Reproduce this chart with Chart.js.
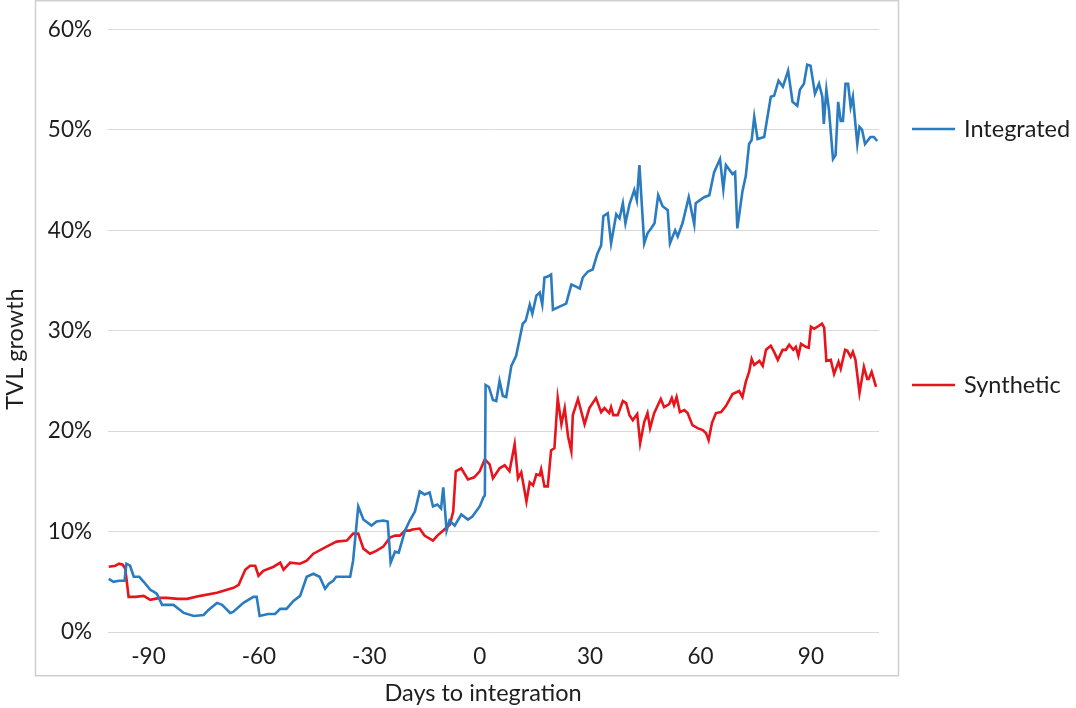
<!DOCTYPE html>
<html>
<head>
<meta charset="utf-8">
<script src="https://cdn.jsdelivr.net/npm/chart.js@4.4.1/dist/chart.umd.min.js"></script>
<style>
  html, body { margin: 0; padding: 0; background: #fff; }
  canvas { display: block; }
</style>
</head>
<body>
<canvas id="chartTVL" width="1076" height="708"></canvas>
<script>
let seriesNames = ["Integrated", "Synthetic"];
let seriesColors = ["#2a7bbf", "#e8141c"];

let tickDays = [-90, -60, -30, 0, 30, 60, 90];
let xTitle = "Days to integration";
let yTitle = "TVL growth";

let integratedDays = [-100.8, -99.5, -98, -96.5, -96, -95, -94, -92.5, -91.3, -89.5, -88.5, -87.7, -86.3, -83.2, -80.4, -77.7, -75, -73.7, -71.4, -70, -67.8, -67, -64.2, -61.5, -60.6, -59.8, -57.5, -55.6, -54.2, -52.5, -50.6, -48.8, -47, -45.2, -43.5, -42, -41, -39.8, -39, -35.2, -34.4, -33, -31.6, -29.4, -28, -26.2, -25, -24.2, -23, -22, -20.3, -19, -17.6, -16.3, -15, -13.6, -12.7, -11.5, -10.5, -9.9, -9, -8.2, -6.8, -5, -3.2, -2, 0, 1, 1.4, 1.6, 2.5, 3.6, 4.5, 5.4, 6.3, 7.2, 8.6, 9.9, 11.7, 12.5, 13.6, 14.3, 15.4, 16.3, 17, 17.6, 18.5, 19.4, 19.9, 21.7, 23.5, 24.9, 26.2, 27.2, 28, 29.4, 30.7, 32, 33, 33.6, 34.8, 35.7, 37.1, 38, 38.9, 39.6, 40.7, 42, 42.7, 43.4, 44.7, 45.6, 46.6, 47.5, 48.5, 49.7, 51.1, 51.7, 53.1, 53.8, 55.1, 56.8, 58.3, 58.7, 61, 62.4, 63.7, 65.3, 66.2, 66.9, 68.7, 69.4, 70, 71.4, 72.3, 73.2, 73.9, 74.6, 75.5, 77.3, 79.1, 80, 81.2, 82.4, 83.8, 85, 86.3, 87, 88.1, 89, 89.9, 91.1, 92.2, 93.1, 93.5, 94.2, 94.9, 96, 96.7, 97.4, 98.1, 98.7, 99.4, 100.1, 100.8, 101.4, 102.6, 103.2, 103.9, 104.7, 106.2, 107.1, 108];
let integratedValues = [5.3, 5.0, 5.1, 5.1, 6.8, 6.6, 5.5, 5.5, 5.0, 4.2, 4.0, 3.8, 2.7, 2.7, 1.9, 1.6, 1.7, 2.2, 2.9, 2.7, 1.9, 2.0, 2.9, 3.5, 3.5, 1.6, 1.8, 1.8, 2.3, 2.3, 3.1, 3.6, 5.5, 5.8, 5.5, 4.3, 4.8, 5.1, 5.5, 5.5, 7.1, 12.5, 11.2, 10.6, 11.0, 11.1, 11.0, 6.9, 8.0, 7.9, 10.1, 11.1, 12.0, 14.0, 13.7, 13.9, 12.5, 12.7, 12.3, 14.4, 10.1, 11.1, 10.6, 11.7, 11.2, 11.5, 12.5, 13.4, 13.6, 24.6, 24.4, 23.1, 23.0, 25.0, 23.5, 23.4, 26.5, 27.5, 30.7, 31.0, 32.6, 31.7, 33.5, 33.8, 32.6, 35.3, 35.4, 35.6, 32.1, 32.4, 32.7, 34.6, 34.4, 34.2, 35.3, 35.9, 36.1, 37.7, 38.5, 41.4, 41.7, 38.7, 41.6, 41.2, 42.7, 40.7, 42.6, 44.0, 43.0, 46.5, 38.7, 39.7, 40.2, 40.7, 43.5, 42.4, 42.0, 38.7, 40.0, 39.4, 40.7, 43.3, 40.6, 42.7, 43.3, 43.5, 45.8, 47.1, 44.1, 46.5, 45.6, 45.8, 40.2, 43.9, 45.4, 48.6, 49.0, 51.3, 49.1, 49.3, 53.3, 53.4, 54.9, 54.3, 55.9, 52.8, 52.4, 54.0, 54.6, 56.5, 56.4, 53.6, 54.6, 53.3, 50.6, 54.0, 52.0, 47.1, 47.5, 52.8, 50.9, 50.9, 54.6, 54.6, 52.3, 53.3, 48.6, 50.3, 50.0, 48.6, 49.3, 49.3, 48.9];

let syntheticDays = [-100.8, -99, -98, -97, -96.3, -95.4, -93.5, -91.3, -89.5, -87, -85, -82, -79.5, -75.9, -71.4, -66.9, -65.5, -63.7, -62.4, -61, -60.1, -58.8, -56, -54.2, -53.3, -51.5, -48.8, -47, -45.2, -41.6, -38.9, -36.1, -34.4, -33, -31.6, -29.8, -28, -26.2, -24.4, -23, -21.7, -20.3, -19, -18.3, -16.3, -15, -12.7, -11.5, -9.9, -8.1, -7.2, -6.5, -5, -3.2, -1.5, 0, 1.4, 2.7, 3.6, 5.4, 6.8, 8.1, 9.5, 10.4, 11.3, 12.7, 13.6, 14.5, 15.4, 16.3, 16.7, 17.6, 18.5, 19.4, 20.3, 21.2, 22.2, 23.1, 24, 24.9, 25.3, 26.7, 28.5, 29.8, 31.6, 33, 33.9, 35.2, 35.7, 36.3, 37.5, 38.9, 39.8, 40.7, 41.6, 42.8, 43.6, 44.7, 45.6, 46.3, 47.4, 49.2, 50.1, 51.5, 52.2, 52.8, 53.5, 54.4, 55.6, 56.5, 57.8, 59.2, 60.6, 61.5, 62.2, 63.1, 64.2, 65.6, 66.9, 68.7, 70.5, 71.4, 72.3, 73.2, 73.9, 74.6, 76, 76.9, 77.8, 79.1, 80, 81, 82.3, 83.2, 84.1, 85.2, 85.9, 86.6, 87.3, 88.6, 89.4, 90, 90.9, 91.8, 93, 93.6, 94.2, 95.4, 96.3, 97.5, 98.1, 99.3, 99.9, 100.8, 101.4, 102.1, 103.2, 104.4, 105.3, 105.7, 106.5, 107.7];
let syntheticValues = [6.5, 6.6, 6.8, 6.7, 6.3, 3.5, 3.5, 3.6, 3.2, 3.4, 3.4, 3.3, 3.3, 3.6, 3.9, 4.4, 4.7, 6.2, 6.6, 6.6, 5.6, 6.1, 6.5, 6.9, 6.2, 6.9, 6.8, 7.1, 7.8, 8.5, 9.0, 9.1, 9.8, 9.8, 8.3, 7.8, 8.1, 8.5, 9.4, 9.6, 9.6, 10.1, 10.1, 10.2, 10.3, 9.6, 9.1, 9.6, 10.1, 10.7, 12.0, 16.0, 16.3, 15.2, 15.4, 16.0, 17.2, 16.7, 15.3, 16.3, 16.6, 16.0, 18.7, 15.3, 15.9, 13.0, 14.9, 14.6, 15.7, 15.6, 16.2, 14.5, 14.5, 18.1, 18.3, 23.3, 20.7, 22.3, 19.5, 18.0, 21.6, 23.2, 20.7, 22.3, 23.3, 21.9, 22.3, 21.8, 22.4, 21.6, 21.6, 23.0, 22.8, 21.6, 21.1, 21.7, 18.8, 20.9, 21.8, 20.3, 21.8, 23.2, 22.4, 22.7, 23.3, 22.6, 23.4, 21.9, 22.1, 21.8, 20.6, 20.3, 20.1, 19.8, 19.1, 20.8, 21.8, 21.9, 22.5, 23.7, 24.0, 23.4, 24.9, 25.9, 27.2, 26.6, 27.0, 26.5, 28.1, 28.5, 27.9, 27.1, 28.1, 28.1, 28.6, 28.1, 28.4, 27.5, 28.7, 28.4, 28.3, 30.4, 30.2, 30.4, 30.7, 30.3, 27.0, 27.1, 25.7, 26.9, 26.2, 28.1, 28.0, 27.4, 27.9, 27.1, 23.8, 26.4, 25.2, 25.2, 25.9, 24.4];

let fontName = "Lato";
let textColor = "#1e1e1e";

// khung xám quanh vùng biểu đồ
let framePlugin = {
    id: "frame",
    beforeDraw(chart) {
        let ctx = chart.ctx;
        ctx.save();
        ctx.strokeStyle = "#cfcfcf";
        ctx.lineWidth = 1.5;
        ctx.strokeRect(35.5, 0.75, 863, 675);
        ctx.restore();
    }
};

// tiêu đề trục, đặt như bản gốc (lệch khỏi tâm vùng vẽ)
let axisTitles = {
    id: "axisTitles",
    afterDraw(chart) {
        let ctx = chart.ctx;
        ctx.save();
        ctx.font = `23.5px ${fontName}`;
        ctx.fillStyle = textColor;
        ctx.textAlign = "center";
        ctx.textBaseline = "middle";
        ctx.fillText(xTitle, 483, 693);
        ctx.translate(15, 349);
        ctx.rotate(-Math.PI / 2);
        ctx.fillText(yTitle, 0, 0);
        ctx.restore();
    }
};

// chú thích bên phải, mỗi dòng cạnh đường của nó
let sideLegend = {
    id: "sideLegend",
    afterDraw(chart) {
        let ctx = chart.ctx;
        let rowsY = [129, 385];
        ctx.save();
        ctx.font = `23.5px ${fontName}`;
        ctx.textBaseline = "middle";
        ctx.fillStyle = textColor;
        chart.data.datasets.forEach((ds, i) => {
            let y = rowsY[i];
            ctx.strokeStyle = ds.borderColor;
            ctx.lineWidth = 2.5;
            ctx.beginPath();
            ctx.moveTo(912, y);
            ctx.lineTo(955, y);
            ctx.stroke();
            ctx.fillText(ds.label, 964, y);
        });
        ctx.restore();
    }
};

let chartElement = document.querySelector("#chartTVL").getContext("2d");
new Chart(chartElement, {
    type: "line",
    data: {
        datasets: [{
            label: seriesNames[0],
            data: integratedDays.map((d, i) => ({x: d, y: integratedValues[i]})),
            borderColor: seriesColors[0],
            borderWidth: 2.6,
            pointRadius: 0,
            tension: 0
        }, {
            label: seriesNames[1],
            data: syntheticDays.map((d, i) => ({x: d, y: syntheticValues[i]})),
            borderColor: seriesColors[1],
            borderWidth: 2.6,
            pointRadius: 0,
            tension: 0
        }]
    },
    options: {
        responsive: false,
        devicePixelRatio: 1,
        animation: false,
        layout: {padding: {left: 0, right: 197, top: 25, bottom: 0}},
        plugins: {
            legend: {display: false},
            tooltip: {enabled: false}
        },
        scales: {
            x: {
                type: "linear",
                min: -101,
                max: 108.5,
                afterBuildTicks: scale => {
                    scale.ticks = tickDays.map(v => ({value: v}));
                },
                afterFit: scale => { scale.height = 76; },
                grid: {display: false, drawTicks: false},
                border: {display: false},
                ticks: {
                    padding: 11,
                    color: textColor,
                    font: {family: fontName, size: 22.5},
                    callback: v => String(v)
                }
            },
            y: {
                min: 0,
                max: 60,
                afterFit: scale => { scale.width = 108; },
                grid: {color: "#d9d9d9", lineWidth: 1, drawTicks: false},
                border: {display: false},
                ticks: {
                    stepSize: 10,
                    padding: 16,
                    color: textColor,
                    font: {family: fontName, size: 22.5},
                    callback: v => v + "%"
                }
            }
        }
    },
    plugins: [framePlugin, axisTitles, sideLegend]
});
</script>
</body>
</html>
